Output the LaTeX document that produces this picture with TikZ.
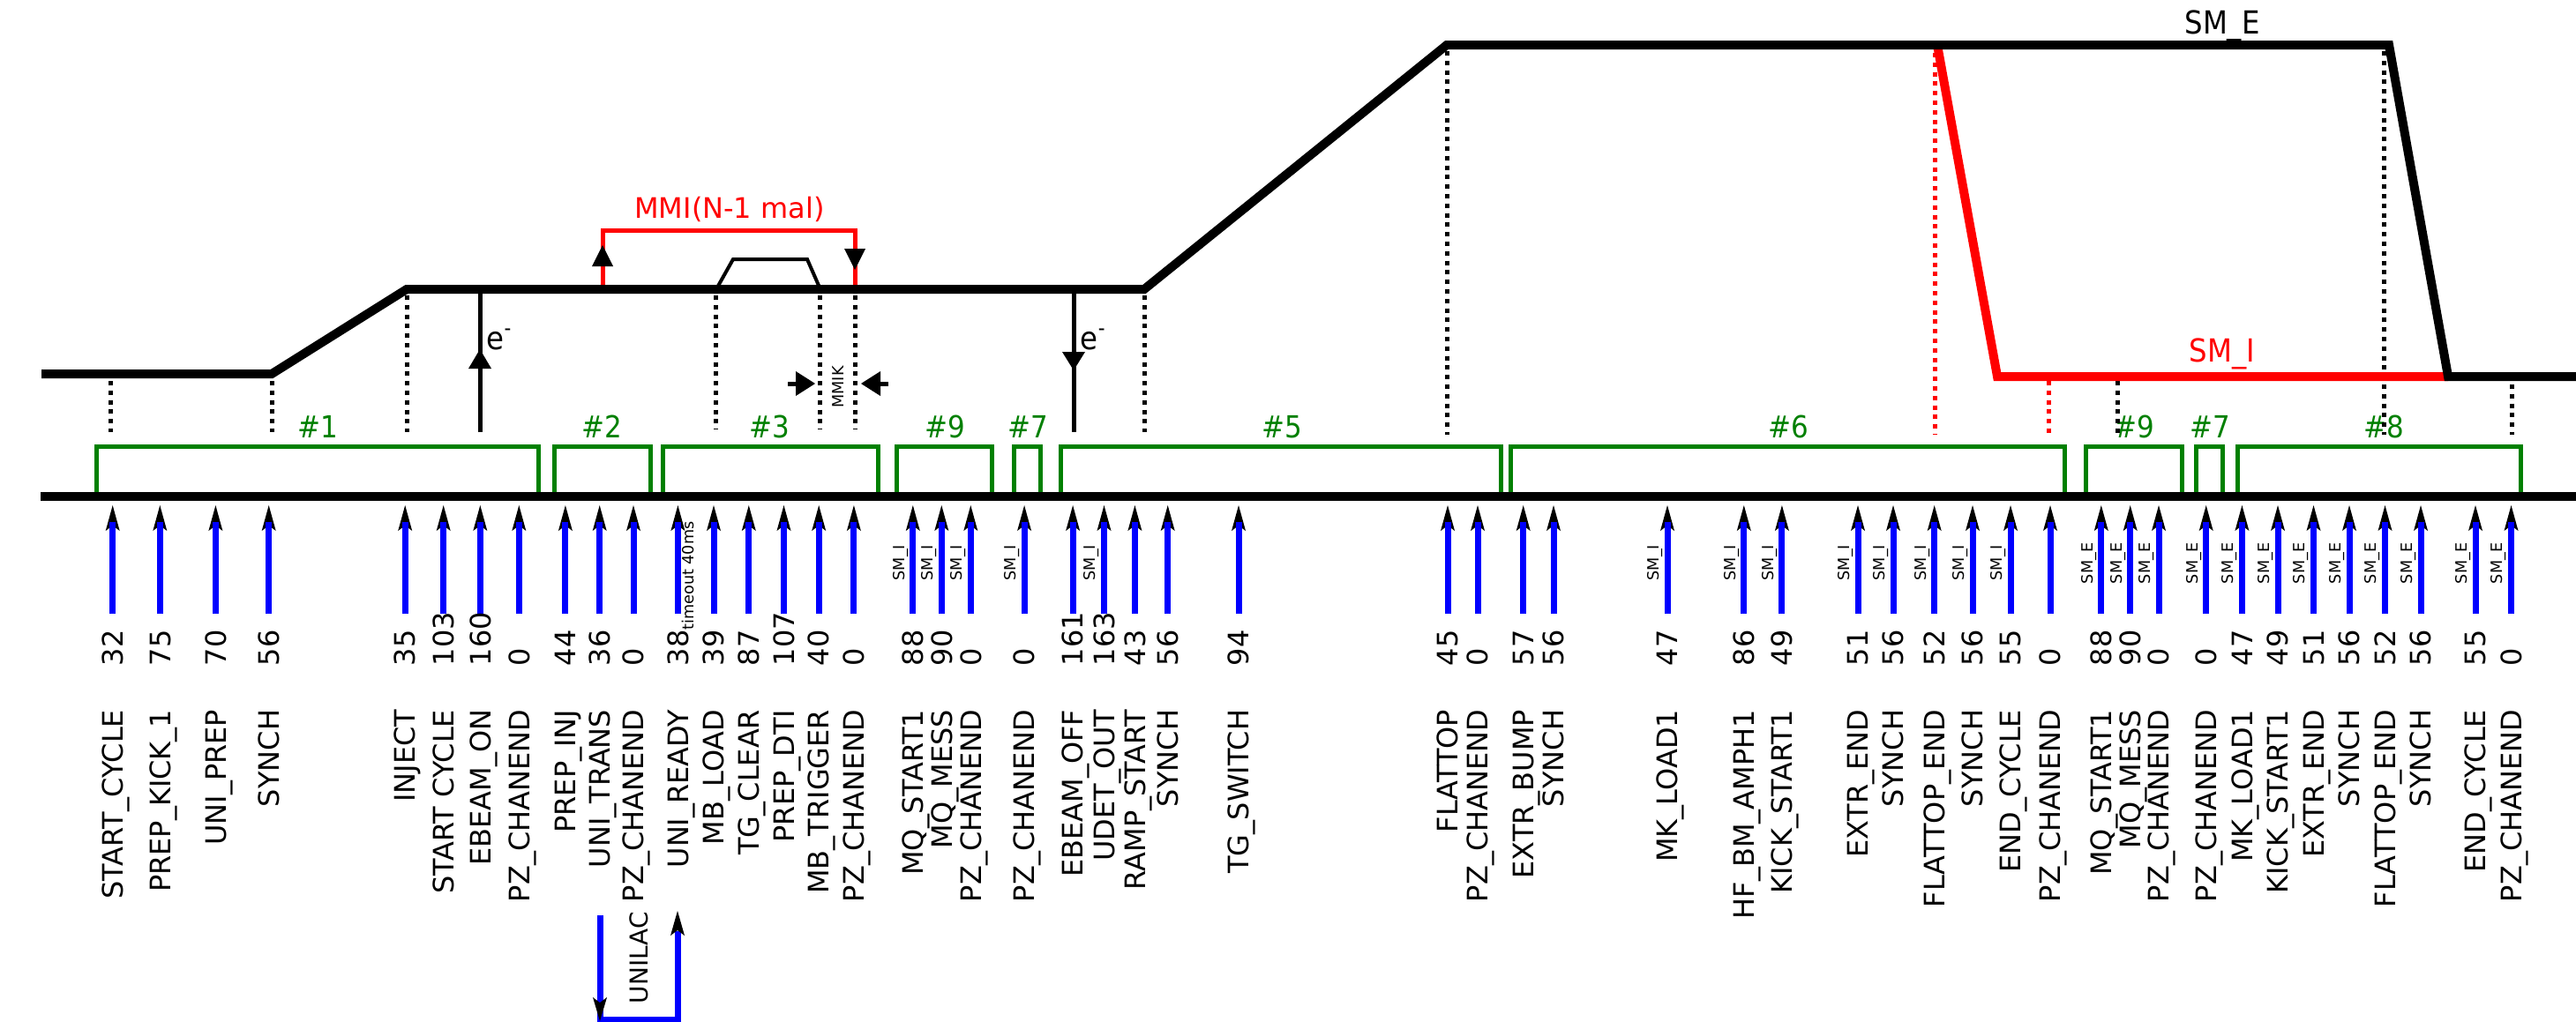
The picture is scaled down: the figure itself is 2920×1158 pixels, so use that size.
\documentclass[tikz,border=0pt]{standalone}
\usepackage{fontspec}
\setmainfont{DejaVu Sans}
\newfontfamily\condfont{DejaVu Sans Condensed}
\definecolor{gr}{RGB}{0,128,0}
\definecolor{rd}{RGB}{255,0,0}
\definecolor{bl}{RGB}{0,0,255}
\begin{document}
\begin{tikzpicture}[x=0.25pt,y=-0.25pt,
  wave/.style={line width=2.5pt},
  dotline/.style={line width=1.25pt, dash pattern=on 1.25pt off 1.45pt},
  gbox/.style={draw=gr, line width=1.25pt},
  glab/.style={text=gr, font=\condfont\fontsize{8.6}{10}\selectfont, anchor=base, inner sep=0pt},
  num/.style={rotate=90, anchor=west, inner sep=0pt, font=\fontsize{8}{9.6}\selectfont, text height=5.85pt, text depth=0pt},
  lab/.style={num, anchor=east},
  sml/.style={rotate=90, inner sep=0pt, font=\fontsize{4.4}{5.3}\selectfont, text height=3.2pt, text depth=0pt},
  shaft/.style={draw=bl, line width=1.75pt},
  thinl/.style={line width=1.25pt},
  elab/.style={anchor=base west, inner sep=0pt, font=\condfont\fontsize{9}{10.8}\selectfont},
]
\fill[white] (0,0) rectangle (2920,1158);
\useasboundingbox (0,0) rectangle (2920,1158);

% green boxes
\foreach \a/\b/\c/\t [count=\i] in {109/610/360/\#1, 628/737/682/\#2, 751/995/872/\#3, 1016/1124/1071/\#9, 1149/1179/1165/\#7, 1202/1701/1453/\#5, 1712/2340/2027/\#6, 2364/2473/2419/\#9, 2489/2519/2505/\#7, 2536/2857/2702/\#8}{
  \draw[gbox] (\a,562) -- (\a,506) -- (\b,506) -- (\b,562);
  \node[glab] (g\i) at (\c,496) {\t};
}

% dotted guide lines
\foreach \x/\a/\b in {125/432/490, 308/432/490, 461/335/490, 811/335/487, 929/335/487, 969/335/487, 1297/335/490, 1640/58/493, 2400/432/491, 2702/58/493, 2847/436/493}
  \draw[dotline] (\x,\a) -- (\x,\b);
\foreach \x/\a/\b in {2193/60/493, 2322/432/491}
  \draw[dotline, rd] (\x,\a) -- (\x,\b);

% waveforms
\draw[wave, rd] (2196,51) -- (2264,427) -- (2775,427);
\draw[wave] (47,424) -- (308,424) -- (461,328) -- (1297,328) -- (1640,51) -- (2708,51) -- (2775,427) -- (2920,427);
\node[anchor=base, inner sep=0pt, font=\condfont\fontsize{9}{10.8}\selectfont] (sme) at (2519,38) {SM\_E};
\node[anchor=base, inner sep=0pt, text=rd, font=\condfont\fontsize{9}{10.8}\selectfont] (smi) at (2519,410) {SM\_I};

% bump
\draw[line width=1pt] (813,326) -- (831,294) -- (915,294) -- (929,326);

% MMI bracket
\draw[rd, line width=1.25pt] (683,323) -- (683,261) -- (969,261) -- (969,323);
\fill (683,278) -- (671,302) -- (695,302) -- cycle;
\fill (969,306) -- (957,282) -- (981,282) -- cycle;
\node[text=rd, font=\fontsize{8}{9.6}\selectfont, anchor=base, inner sep=0pt] (mmi) at (827,247) {MMI(N-1 mal)};

% MMIK
\draw[thinl] (893,435) -- (905,435);
\fill (924,435) -- (902,421) -- (902,449) -- cycle;
\draw[thinl] (1007,435) -- (995,435);
\fill (976,435) -- (998,421) -- (998,449) -- cycle;
\node[sml] (mmik) at (950,439) {MMIK};

% electron arrows
\draw[thinl] (544,490) -- (544,333);
\fill (544,396) -- (531,418) -- (557,418) -- cycle;
\node[elab] (e1) at (551,396) {e\textsuperscript{-}};
\draw[thinl] (1217,331) -- (1217,490);
\fill (1217,420) -- (1204,399) -- (1230,399) -- cycle;
\node[elab] (e2) at (1224,396) {e\textsuperscript{-}};

% time axis
\draw[wave] (46,563) -- (2920,563);

% events
\foreach \x/\n/\l [count=\i] in {
127.7/32/START\_CYCLE,
181.3/75/PREP\_KICK\_1,
244.4/70/UNI\_PREP,
304.7/56/SYNCH,
459.2/35/INJECT,
502.7/103/START CYCLE,
544.3/160/EBEAM\_ON,
588.3/0/PZ\_CHANEND,
640.9/44/PREP\_INJ,
679.7/36/UNI\_TRANS,
718/0/PZ\_CHANEND,
768.4/{38\raisebox{-1.5pt}{\fontsize{4.4}{5.3}\selectfont timeout 40ms}}/UNI\_READY,
809/39/MB\_LOAD,
848.8/87/TG\_CLEAR,
888.5/107/PREP\_DTI,
928.2/40/MB\_TRIGGER,
967.9/0/PZ\_CHANEND,
1034.8/88/MQ\_START1,
1067.3/90/MQ\_MESS,
1100.3/0/PZ\_CHANEND,
1161.1/0/PZ\_CHANEND,
1216.1/161/EBEAM\_OFF,
1251.5/163/UDET\_OUT,
1286.4/43/RAMP\_START,
1323.7/56/SYNCH,
1404/94/TG\_SWITCH,
1641/45/FLATTOP,
1675/0/PZ\_CHANEND,
1726.7/57/EXTR\_BUMP,
1761/56/SYNCH,
1890/47/MK\_LOAD1,
1976.8/86/HF\_BM\_AMPH1,
2019.9/49/KICK\_START1,
2106/51/EXTR\_END,
2146/56/SYNCH,
2192.7/52/FLATTOP\_END,
2236/56/SYNCH,
2279/55/END\_CYCLE,
2324/0/PZ\_CHANEND,
2381.8/88/MQ\_START1,
2414.7/90/MQ\_MESS,
2447/0/PZ\_CHANEND,
2500.7/0/PZ\_CHANEND,
2541.4/47/MK\_LOAD1,
2582/49/KICK\_START1,
2622.5/51/EXTR\_END,
2663/56/SYNCH,
2703.5/52/FLATTOP\_END,
2744/56/SYNCH,
2806/55/END\_CYCLE,
2846.5/0/PZ\_CHANEND}{
  \fill (\x,573) -- ({\x-8},602) -- (\x,596) -- ({\x+8},602) -- cycle;
  \draw[shaft] (\x,696) -- (\x,592);
  \node[num] (n\i) at (\x,756) {\n};
  \node[lab] (l\i) at (\x,804) {\l};
}

\foreach \x [count=\i] in {1034.8, 1067.3, 1100.3, 1161.1, 1251.5, 1890, 1976.8, 2019.9, 2106, 2146, 2192.7, 2236, 2279}
  \node[sml] (si\i) at ({\x-16},638) {SM\_I};
\foreach \x [count=\i] in {2381.8, 2414.7, 2447, 2500.7, 2541.4, 2582, 2622.5, 2663, 2703.5, 2744, 2806, 2846.5}
  \node[sml] (se\i) at ({\x-16},639) {SM\_E};

% UNILAC loop
\draw[shaft] (680,1038) -- (680,1156) -- (768,1156) -- (768,1056);
\fill (680,1158) -- (672,1131) -- (680,1137) -- (688,1131) -- cycle;
\fill (768,1033) -- (760,1061) -- (768,1055) -- (776,1061) -- cycle;
\node[num, anchor=center, font=\fontsize{7}{8.4}\selectfont, text height=5.1pt] (unilac) at (724,1086) {UNILAC};
\end{tikzpicture}
\end{document}
